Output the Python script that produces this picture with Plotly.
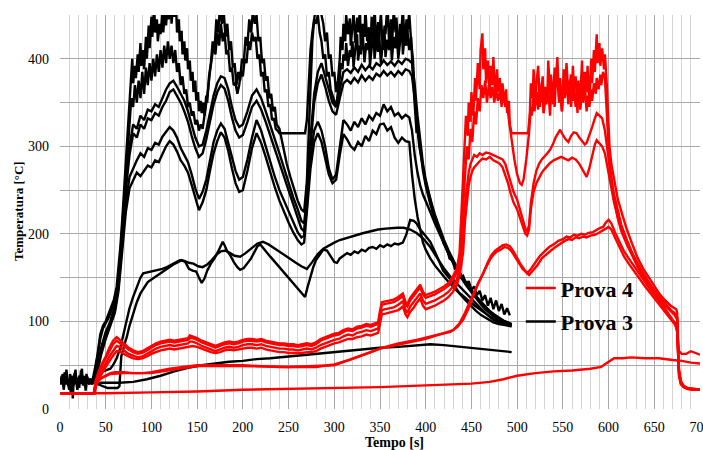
import plotly.graph_objects as go

# ---------------- Prova 3 (black): thermocouple readings, (time s, temperature °C)
p3_tc1 = [(0,30),(2,38),(4,25),(5,42),(7,28),(8,35),(10,22),(11,40),(13,30),(14,12),(15,33),(17,45),(18,28),(20,36),(21,24),(23,44),(24,30),(26,38),(27,26),(29,40),(30,32),(32,28),(33,35),(35,30),
    (38,45),(41,62),(44,85),(47,95),(50,100),(53,108),(56,115),(59,125),(62,140),(64,160),(66,185),(68,215),(70,250),(72,285),(74,320),(76,350),(78,385),(79,400),(80,372),(82,392),(83,378),(85,405),(86,385),(88,418),(89,392),(91,410),(92,388),(94,425),(95,400),(97,438),(98,412),(100,448),(101,425),(103,462),(104,430),(106,445),(107,420),(109,440),(110,428),(112,452),(113,430),(115,460),(116,438),(118,468),(119,445),(121,472),(122,440),(124,465),(125,448),(127,458),(128,430),(130,445),(131,420),(133,432),(134,405),(136,420),(137,398),(139,412),(140,388),(142,398),(143,375),(145,385),(146,362),(148,375),(149,352),(151,362),(152,340),(154,352),(155,338),(157,350),(158,335),(160,358),(161,350),(163,380),(165,395),(167,420),(169,410),(171,445),(173,430),(175,460),(177,440),(179,455),(181,425),(183,440),(185,410),(187,420),(189,390),(191,395),(193,370),(195,385),(197,375),(199,400),(201,395),(203,425),(205,415),(207,445),(209,430),(211,455),(213,440),(215,450),(217,420),(219,425),(221,395),(223,400),(225,375),(227,380),(229,355),(231,360),(233,340),(235,345),(237,325),(240,320),(244,300),(248,280),(252,265),(256,250),(260,238),(264,228),(267,225),(270,260),(272,320),(274,380),(276,420),(278,445),(280,460),(282,455),(284,465),(286,450),(288,440),(290,420),(292,430),(294,400),(296,405),(298,380),(300,385),(302,362),(304,375),
    (306,400),(307,425),(309,410),(310,440),(312,420),(313,450),(315,428),(317,446),(318,415),(320,438),(321,452),(323,418),(325,447),(326,430),(328,455),(329,412),(331,440),(333,425),(334,458),(336,420),(338,436),(339,405),(341,448),(343,430),(344,460),(346,415),(348,442),(349,425),(351,452),(353,410),(355,438),(356,428),(358,462),(360,418),(362,445),(363,412),(365,456),(367,430),(368,447),(370,408),(372,440),(373,425),(375,458),(377,415),(379,445),(380,430),(382,452),(384,420),
    (386,400),(388,360),(390,330),(393,300),(396,280),(399,265),(402,250),(405,240),(408,225),(411,218),(414,205),(417,200),(420,188),(423,185),(426,172),(429,170),(432,160),(435,160),(438,150),(441,152),(444,142),(447,146),(450,136),(453,140),(456,130),(459,135),(462,124),(465,130),(468,118),(471,127),(474,114),(477,124),(480,112),(483,120),(486,108),(489,115),(492,107)]

p3_tc2 = [(0,35),(1,28),(3,40),(4,22),(6,36),(7,45),(9,26),(10,33),(12,18),(13,38),(15,27),(16,41),(18,30),(19,22),(21,38),(22,29),(24,46),(25,27),(27,33),(28,21),(30,37),(31,29),(33,33),(35,28),
    (38,40),(41,58),(44,80),(47,92),(50,98),(53,104),(56,112),(59,122),(62,135),(64,150),(66,175),(68,205),(70,240),(72,275),(74,305),(76,330),(78,355),(80,345),(82,370),(84,350),(86,375),(88,355),(90,385),(92,360),(94,390),(96,370),(98,395),(100,375),(102,400),(104,380),(106,405),(108,385),(110,410),(112,390),(114,415),(116,395),(118,420),(120,400),(122,415),(124,395),(126,410),(128,385),(130,395),(132,370),(134,380),(136,360),(138,365),(140,345),(142,350),(144,335),(146,340),(148,325),(150,330),(152,318),(154,325),(156,320),(158,335),(160,345),(162,365),(164,385),(166,400),(168,415),(170,405),(172,430),(174,415),(176,440),(178,420),(180,430),(182,405),(184,410),(186,385),(188,390),(190,370),(192,372),(194,360),(196,370),(198,385),(200,380),(202,400),(204,395),(206,420),(208,410),(210,430),(212,420),(214,425),(216,400),(218,405),(220,380),(222,385),(224,362),(226,365),(228,345),(230,348),(232,330),(234,332),(236,320),(238,318),(240,315),(268,315),(270,330),(272,370),(274,410),(276,430),(278,445),(280,440),(282,450),(284,430),(286,420),(288,400),(290,405),(292,380),(294,385),(296,365),(298,358),
    (300,350),(302,345),(304,362),(306,378),(307,395),(309,388),(310,405),(312,398),(313,418),(315,392),(317,410),(318,402),(320,420),(321,390),(323,412),(325,428),(326,398),(328,415),(329,405),(331,432),(333,396),(335,418),(336,410),(338,425),(339,392),(341,415),(343,435),(344,400),(346,420),(348,408),(349,428),(351,395),(353,418),(355,430),(356,402),(358,422),(360,410),(361,436),(363,398),(365,425),(367,412),(368,432),(370,400),(372,420),(374,438),(375,405),(377,428),(379,415),(380,432),(382,410),(384,425),(386,380),(388,340),(390,315)]

p3_tc3 = [(0,30),(35,30),(40,42),(45,70),(50,88),(55,100),(60,118),(64,150),(68,200),(72,260),(76,300),(80,325),(84,320),(88,335),(92,330),(96,342),(100,340),(104,348),(108,345),(112,355),(116,365),(120,372),(124,375),(128,368),(132,360),(136,352),(140,340),(144,325),(148,310),(152,300),(156,302),(160,318),(164,340),(168,358),(172,372),(176,380),(180,378),(184,365),(188,345),(192,330),(196,322),(200,325),(205,340),(210,358),(215,365),(220,355),(225,340),(230,325),(235,308),(240,292),(245,275),(250,258),(255,242),(260,228),(264,215),(267,212),(270,240),(274,310),(278,360),(282,385),(286,395),(290,380),(294,365),(298,350),(302,345),(306,365),(310,385),(314,388),(318,384),(322,390),(326,385),(330,393),(334,387),(338,392),(342,388),(346,395),(350,392),(354,398),(358,393),(362,397),(366,392),(370,398),(374,394),(378,400),(382,398),(385,395),(388,370),(391,335),(394,305),(397,280),(400,262),(405,240),(410,222),(415,207),(420,193),(425,181),(430,170),(435,160),(440,151),(445,143),(450,136),(455,129),(460,123),(465,117),(470,112),(475,108),(480,104),(485,101),(490,99),(494,97)]

p3_tc4 = [(0,30),(35,30),(40,40),(45,68),(50,85),(55,98),(60,115),(64,145),(68,195),(72,250),(76,290),(80,315),(84,310),(88,325),(92,320),(96,332),(100,330),(104,338),(108,335),(112,345),(116,352),(120,362),(124,365),(128,358),(132,350),(136,340),(140,328),(144,312),(148,298),(152,288),(156,292),(160,308),(164,330),(168,348),(172,362),(176,370),(180,366),(184,352),(188,333),(192,318),(196,310),(200,313),(205,328),(210,345),(215,352),(220,342),(225,328),(230,312),(235,296),(240,280),(245,264),(250,248),(255,233),(260,218),(264,206),(267,203),(270,230),(274,300),(278,350),(282,372),(286,382),(290,368),(294,352),(298,340),(302,336),(306,355),(310,372),(314,376),(318,372),(322,378),(326,373),(330,381),(334,375),(338,380),(342,376),(346,383),(350,380),(354,386),(358,381),(362,385),(366,380),(370,386),(374,382),(378,388),(382,386),(385,380),(388,355),(391,322),(394,295),(397,272),(400,255),(405,234),(410,217),(415,202),(420,189),(425,177),(430,167),(435,157),(440,148),(445,140),(450,133),(455,126),(460,120),(465,114),(470,109),(475,105),(480,101),(485,99),(490,97),(494,95)]

p3_tc5 = [(0,30),(35,30),(40,40),(45,65),(50,82),(55,96),(60,112),(64,140),(68,185),(72,235),(76,265),(80,275),(84,284),(88,292),(92,288),(96,298),(100,296),(104,304),(108,302),(112,311),(116,316),(120,322),(124,318),(128,310),(132,298),(136,290),(140,282),(144,268),(148,252),(152,240),(156,248),(160,262),(164,285),(168,305),(172,318),(176,326),(180,320),(184,305),(188,288),(192,272),(196,262),(200,265),(205,285),(210,310),(215,330),(220,318),(225,300),(230,282),(235,265),(240,250),(245,238),(250,226),(255,212),(260,202),(264,196),(267,198),(270,240),(274,290),(278,318),(282,328),(286,318),(290,300),(294,275),(298,262),(302,268),(306,300),(310,330),(314,325),(318,318),(322,328),(326,322),(330,332),(334,325),(338,335),(342,330),(346,338),(350,335),(354,348),(358,340),(362,345),(366,335),(370,338),(374,332),(378,336),(382,333),(385,318),(388,290),(391,270),(394,255),(397,245),(400,238),(405,225),(410,212),(415,200),(420,188),(425,177),(430,167),(435,158),(440,150),(445,142),(450,135),(455,128),(460,122),(465,116),(470,111),(475,107),(480,103),(485,100),(490,98),(494,96)]

p3_tc6 = [(0,30),(35,30),(40,38),(45,62),(50,80),(55,94),(60,110),(64,135),(68,178),(72,225),(76,252),(80,262),(84,270),(88,266),(92,272),(96,278),(100,276),(104,284),(108,282),(112,292),(116,300),(120,306),(124,302),(128,294),(132,284),(136,278),(140,270),(144,256),(148,240),(152,227),(156,236),(160,250),(164,272),(168,292),(172,306),(176,316),(180,310),(184,295),(188,275),(192,258),(196,248),(200,250),(205,272),(210,298),(215,315),(220,304),(225,288),(230,270),(235,253),(240,238),(245,225),(250,213),(255,202),(260,193),(264,188),(267,190),(270,225),(274,275),(278,305),(282,315),(286,305),(290,285),(294,268),(298,258),(302,262),(306,290),(310,314),(314,308),(318,300),(322,296),(326,305),(330,300),(334,312),(338,306),(342,318),(346,314),(350,325),(354,326),(358,318),(362,322),(366,310),(370,304),(374,310),(378,306),(382,305),(385,268),(388,240),(391,220),(394,203),(397,190),(400,182),(405,172),(410,164),(415,157),(420,151),(425,145),(430,139),(435,134),(440,130),(445,125),(450,121),(455,117),(460,113),(465,109),(470,105),(475,102),(480,99),(485,97),(490,95),(494,94)]

p3_tc7 = [(0,30),(35,30),(40,36),(45,42),(50,44),(55,46),(58,50),(62,58),(66,70),(70,88),(73,102),(76,115),(80,128),(84,140),(88,150),(91,155),(95,156),(100,157),(106,158),(112,160),(117,162),(124,166),(131,170),(136,169),(141,167),(146,166),(151,163),(156,162),(161,165),(166,170),(171,176),(176,180),(181,181),(186,178),(191,175),(197,174),(203,178),(210,184),(216,189),(222,191),(228,188),(234,184),(240,180),(246,176),(252,171),(258,167),(264,163),(270,160),(276,168),(282,177),(288,183),(294,187),(300,190),(306,193),(312,195),(318,197),(325,199),(332,201),(340,203),(348,205),(356,206),(364,207),(369,207),(376,207),(383,205),(390,201),(397,195),(405,185),(412,173),(419,162),(427,151),(435,142),(443,133),(451,124),(459,116),(466,109),(474,102),(482,99),(488,97),(492,96)]

p3_tc8 = [(0,30),(35,30),(40,29),(45,27),(48,25),(52,24),(58,24),(63,24),(65,26),(66,40),(67,60),(70,72),(73,82),(76,95),(80,110),(84,122),(88,132),(92,138),(96,145),(100,148),(104,151),(108,153),(112,157),(116,160),(120,163),(124,165),(128,167),(133,170),(137,168),(141,160),(145,158),(149,157),(152,150),(155,144),(158,149),(161,158),(165,166),(169,172),(173,180),(176,186),(178,191),(180,187),(183,180),(186,176),(190,168),(194,162),(197,159),(201,161),(205,167),(209,172),(213,180),(216,186),(219,188),(222,184),(226,178),(230,174),(235,168),(240,162),(245,156),(250,150),(255,144),(260,138),(264,133),(268,128),(271,140),(274,152),(277,162),(280,170),(284,176),(288,182),(292,181),(296,175),(300,168),(303,167),(306,172),(310,175),(314,178),(318,176),(322,180),(326,178),(330,182),(334,180),(338,184),(342,185),(346,183),(350,187),(354,185),(358,188),(362,186),(366,189),(370,188),(375,190),(379,200),(383,216),(387,215),(390,212),(394,205),(398,200),(402,195),(405,191),(410,180),(415,168),(419,158),(423,153),(427,148),(432,140),(437,132),(443,125),(449,118),(455,112),(461,107),(467,103),(474,99),(480,97),(486,96),(492,95)]

p3_tc9 = [(0,30),(35,30),(50,30),(65,30),(80,31),(95,34),(110,38),(125,43),(140,47),(155,50),(170,52),(185,54),(200,55),(215,57),(230,58),(250,60),(270,62),(290,64),(310,66),(330,68),(350,70),(370,71),(390,73),(405,74),(420,73),(440,71),(460,69),(480,67),(494,65)]

# ---------------- Prova 4 (red)
p4_tc1 = [(0,18),(37,18),(39,32),(42,42),(46,52),(50,60),(54,70),(58,78),(62,82),(65,79),(70,74),(75,70),(80,67),(85,65),(90,66),(95,69),(100,72),(105,75),(110,77),(115,78),(120,79),(125,78),(130,79),(135,80),(140,81),(142,84),(145,83),(150,81),(155,78),(160,76),(165,74),(170,72),(175,74),(180,76),(185,77),(190,76),(195,77),(200,79),(205,80),(210,80),(215,79),(220,80),(225,78),(230,77),(235,76),(240,75),(245,75),(250,74),(255,74),(260,73),(265,74),(270,75),(275,74),(280,76),(285,80),(290,82),(295,84),(300,86),(305,87),(310,90),(315,92),(320,91),(325,94),(330,95),(335,97),(340,96),(345,98),(348,99),(350,112),(352,122),(356,123),(360,124),(365,125),(370,128),(375,132),(378,122),(380,120),(383,127),(387,132),(390,137),(394,142),(397,134),(400,130),(405,132),(410,134),(415,137),(420,140),(425,144),(430,152),(434,160),(437,178),(439,222),(441,262),
    (443,300),(444,335),(446,312),(447,350),(449,328),(450,362),(452,335),(454,378),(455,352),(457,395),(459,365),(460,410),(462,429),(463,388),(465,412),(466,372),(468,398),(470,360),(471,392),(473,370),(474,402),(476,355),(478,388),(479,362),(481,378),(483,345),(484,372),(486,350),(488,365),(489,338),(491,352),(492,325),(494,315),
    (512,315),(514,340),(515,372),(517,355),(518,388),(520,350),(521,370),(523,392),(525,345),(526,362),(528,380),(529,338),(531,368),(533,355),(534,398),(536,360),(537,382),(539,348),(541,390),(542,368),(544,402),(546,350),(547,378),(549,340),(551,388),(552,362),(554,395),(556,358),(557,375),(559,345),(561,392),(562,368),(564,380),(566,338),(567,372),(569,355),(571,398),(572,352),(574,385),(576,362),(577,392),(579,348),(581,400),(582,372),(584,410),(585,385),(587,428),(588,395),(590,418),(591,392),(593,412),(595,388),(596,405),(598,372),(599,350),
    (601,300),(603,280),(606,262),(610,240),(615,222),(620,205),(626,188),(632,172),(638,160),(644,150),(650,140),(656,131),(662,124),(668,118),(674,114),(675,110),(676,80),(677,66),(680,63),(685,63),(690,66),(695,64),(700,62)]

p4_tc2 = [(0,18),(37,18),(39,30),(42,40),(46,50),(50,58),(54,67),(58,74),(62,78),(65,76),(70,72),(75,68),(80,65),(85,63),(90,64),(95,67),(100,70),(105,73),(110,75),(115,76),(120,77),(125,76),(130,77),(135,78),(140,79),(142,81),(145,81),(150,79),(155,76),(160,74),(165,72),(170,70),(175,72),(180,74),(185,75),(190,74),(195,75),(200,77),(205,78),(210,78),(215,77),(220,78),(225,76),(230,75),(235,74),(240,73),(245,73),(250,72),(255,72),(260,71),(265,72),(270,73),(275,72),(280,74),(285,78),(290,80),(295,82),(300,84),(305,85),(310,88),(315,90),(320,89),(325,92),(330,93),(335,95),(340,94),(345,96),(348,97),(350,109),(352,119),(356,120),(360,121),(365,122),(370,125),(375,129),(378,119),(380,117),(383,124),(387,129),(390,134),(394,139),(397,131),(400,127),(405,129),(410,131),(415,134),(420,137),(425,141),(430,148),(434,156),(437,170),(439,200),(441,230),
    (443,270),(445,300),(447,285),(449,320),(451,305),(453,340),(455,325),(457,355),(459,340),(461,370),(463,355),(465,375),(467,350),(469,370),(471,355),(473,368),(475,350),(477,365),(479,352),(481,362),(483,348),(485,358),(487,345),(489,350),(491,330),(494,305),(497,285),(500,268),(503,258),(505,256),(507,262),(510,285),
    (513,315),(515,345),(516,335),(518,358),(519,340),(521,362),(523,342),(524,368),(526,350),(527,372),(529,338),(531,360),(532,348),(534,366),(536,335),(537,358),(539,372),(541,345),(542,368),(544,378),(546,350),(547,362),(549,340),(551,370),(552,355),(554,376),(556,348),(557,368),(559,382),(561,352),(562,370),(564,345),(566,365),(567,375),(569,342),(571,360),(572,350),(574,368),(576,340),(577,358),(579,345),(581,365),(582,352),(584,372),(586,360),(587,378),(589,365),(591,382),(592,370),(594,385),(596,378),(598,345),
    (600,300),(603,265),(606,240),(610,218),(614,203),(620,188),(626,174),(632,162),(638,151),(644,142),(650,133),(656,125),(662,118),(668,112),(672,109),(675,105),(676,70),(677,45),(679,32),(682,27),(686,24),(692,23),(700,22)]

p4_tc3 = [(0,18),(37,18),(39,28),(42,36),(46,45),(50,52),(54,60),(58,66),(62,72),(65,71),(70,67),(75,63),(80,61),(85,59),(90,60),(95,63),(100,66),(105,69),(110,71),(115,72),(120,73),(125,72),(130,73),(135,74),(140,75),(142,77),(145,77),(150,75),(155,72),(160,70),(165,68),(170,66),(175,68),(180,70),(185,71),(190,70),(195,71),(200,73),(205,74),(210,74),(215,73),(220,74),(225,72),(230,71),(235,70),(240,69),(245,69),(250,68),(255,68),(260,67),(265,68),(270,69),(275,68),(280,70),(285,73),(290,75),(295,77),(300,79),(305,80),(310,83),(315,85),(320,84),(325,87),(330,88),(335,90),(340,89),(345,91),(348,92),(350,103),(352,113),(356,114),(360,115),(365,116),(370,119),(375,123),(378,113),(380,110),(383,117),(387,122),(390,127),(394,132),(397,124),(400,120),(405,122),(410,124),(415,127),(420,130),(425,134),(430,140),(434,148),(437,160),(439,180),(441,200),
    (443,235),(445,255),(447,270),(449,280),(451,285),(453,290),(456,288),(459,292),(462,290),(466,293),(470,292),(474,290),(478,288),(481,287),(484,285),(487,280),(490,270),(493,258),(496,248),(500,239),(503,228),(506,218),(509,206),(511,202),(513,210),(515,235),(518,258),(521,272),(524,280),(527,285),(530,288),(533,292),(536,296),(539,302),(542,310),(545,316),(547,319),(550,313),(553,308),(556,305),(559,312),(562,316),(565,315),(568,310),(571,306),(574,302),(576,304),(579,312),(582,322),(585,332),(587,338),(590,335),(593,332),(596,318),(598,300),
    (600,285),(603,262),(606,245),(610,226),(614,210),(620,193),(626,178),(632,166),(638,155),(644,145),(650,136),(656,128),(662,120),(668,113),(672,110),(675,104),(676,68),(677,44),(679,31),(682,26),(686,24),(692,22),(700,22)]

p4_tc4 = [(0,18),(37,18),(39,26),(42,33),(46,41),(50,48),(54,55),(58,61),(62,66),(65,66),(70,63),(75,60),(80,58),(85,57),(90,58),(95,60),(100,63),(105,65),(110,67),(115,68),(120,69),(125,68),(130,69),(135,70),(140,71),(142,72),(145,72),(150,71),(155,69),(160,67),(165,65),(170,64),(175,65),(180,67),(185,68),(190,67),(195,68),(200,69),(205,70),(210,70),(215,69),(220,70),(225,68),(230,67),(235,66),(240,65),(245,65),(250,64),(255,64),(260,64),(265,64),(270,65),(275,65),(280,66),(285,69),(290,71),(295,73),(300,75),(305,76),(310,78),(315,80),(320,80),(325,82),(330,83),(335,85),(340,84),(345,86),(348,87),(350,98),(352,108),(356,109),(360,110),(365,111),(370,113),(375,117),(378,108),(380,105),(383,111),(387,116),(390,121),(394,126),(397,118),(400,114),(405,116),(410,118),(415,121),(420,124),(425,128),(430,134),(434,142),(437,152),(439,165),(441,180),
    (443,215),(445,240),(447,255),(449,265),(451,272),(453,276),(456,280),(459,283),(462,286),(466,285),(470,288),(474,284),(478,282),(481,280),(484,276),(487,268),(490,258),(493,246),(496,236),(500,228),(503,218),(506,208),(509,200),(511,198),(513,205),(515,228),(518,248),(521,258),(524,264),(527,270),(530,274),(533,278),(536,281),(540,284),(544,286),(548,288),(552,286),(556,284),(560,287),(564,285),(568,280),(572,272),(576,265),(579,275),(582,290),(585,302),(587,307),(590,303),(593,300),(596,292),(598,280),
    (600,268),(603,250),(606,236),(610,220),(614,206),(620,190),(626,176),(632,164),(638,153),(644,143),(650,134),(656,126),(662,118),(668,112),(672,108),(675,102),(676,66),(677,42),(679,30),(682,25),(686,23),(692,22),(700,22)]

p4_tc5 = [(0,18),(36,18),(38,18),(39,28),(42,33),(46,36),(50,38),(55,41),(60,42),(65,42),(70,42),(80,41),(90,41),(100,42),(110,44),(120,46),(135,48),(150,50),(165,50),(180,50),(200,50),(220,49),(240,48),(260,48),(280,48),(300,51),(317,56),(335,63),(353,70),(370,75),(390,79),(410,84),(427,88),(435,94),(441,102),(447,115),(452,128),(457,143),(463,155),(468,168),(472,176),(476,181),(480,184),(484,187),(488,188),(492,186),(496,180),(500,172),(504,165),(508,159),(511,155),(515,160),(520,167),(525,175),(530,180),(535,185),(540,188),(545,192),(550,194),(554,197),(558,196),(562,199),(566,198),(570,200),(574,199),(578,201),(583,202),(587,205),(591,207),(594,208),(597,213),(600,216),(603,212),(607,202),(612,190),(617,180),(622,172),(628,163),(634,153),(640,145),(646,136),(652,128),(658,120),(664,111),(670,102),(673,98),(675,90),(676,60),(677,40),(679,30),(682,26),(686,24),(692,23),(700,22)]

p4_tc6 = [(0,18),(38,18),(40,30),(45,35),(55,40),(70,41),(100,41),(150,49),(200,49),(250,48),(300,50),(350,69),(400,80),(430,90),(437,98),(443,110),(448,122),(454,136),(459,148),(465,160),(470,170),(474,176),(478,180),(482,182),(486,185),(490,184),(494,180),(498,173),(502,166),(506,160),(510,156),(513,153),(517,158),(522,164),(527,172),(532,177),(537,181),(542,185),(547,189),(552,192),(556,194),(560,193),(564,196),(568,195),(572,197),(576,196),(580,198),(585,199),(589,201),(593,204),(597,206),(600,208),(603,205),(607,196),(612,184),(617,174),(622,166),(628,157),(634,148),(640,140),(646,132),(652,124),(658,116),(664,108),(670,100),(673,96),(675,88),(676,58),(677,38),(679,28),(682,25),(686,23),(692,22),(700,22)]

p4_tc7 = [(0,18),(50,18),(100,19),(150,20),(200,22),(250,23),(300,24),(350,25),(400,27),(430,28),(450,29),(470,31),(485,34),(500,38),(520,41),(540,43),(560,44),(580,46),(592,48),(596,51),(600,54),(606,58),(615,58),(625,59),(640,58),(655,58),(670,56),(680,55),(690,53),(700,52)]

prova3 = [p3_tc1, p3_tc2, p3_tc3, p3_tc4, p3_tc5, p3_tc6, p3_tc7, p3_tc8, p3_tc9]
prova4 = [p4_tc1, p4_tc2, p4_tc3, p4_tc4, p4_tc5, p4_tc6, p4_tc7]

x_ticks = list(range(0, 701, 50))
y_ticks = [0, 100, 200, 300, 400]

SERIF = "Liberation Serif, Times New Roman, serif"
fig = go.Figure()


def add_group(curves, color, name, rank):
    for i, c in enumerate(curves):
        fig.add_trace(go.Scatter(
            x=[p[0] for p in c], y=[p[1] for p in c], mode="lines",
            line=dict(color=color, width=2.4),
            name=name, legendgroup=name, showlegend=(i == 0), legendrank=rank,
            hoverinfo="skip"))


add_group(prova3, "#000000", "Prova 3", 2)
add_group(prova4, "#FF0000", "Prova 4", 1)

fig.update_layout(
    width=703, height=450,
    margin=dict(l=60, r=3, t=15, b=41),
    paper_bgcolor="white", plot_bgcolor="white",
    font=dict(family=SERIF, color="#000000", size=13),
    showlegend=True,
    legend=dict(x=0.72, y=0.36, xanchor="left", yanchor="top",
                bgcolor="rgba(0,0,0,0)", borderwidth=0,
                font=dict(family=SERIF, size=22, weight="bold"),
                tracegroupgap=2, itemwidth=30),
    xaxis=dict(range=[0, 700], tickvals=x_ticks, showgrid=True,
               gridcolor="#a8a8a8", gridwidth=1,
               minor=dict(dtick=10, showgrid=True, gridcolor="#d4d4d4", gridwidth=1),
               zeroline=False, showline=False, ticks="", ticklabeloverflow="allow",
               automargin=False,
               ticklabelstandoff=8, tickfont=dict(family=SERIF, size=14)),
    yaxis=dict(range=[0, 450], tickvals=y_ticks, showgrid=True,
               gridcolor="#a8a8a8", gridwidth=1,
               minor=dict(dtick=50, showgrid=True, gridcolor="#a8a8a8", gridwidth=1),
               zeroline=False, showline=False, ticks="", automargin=False,
               ticklabelstandoff=10, tickfont=dict(family=SERIF, size=14)),
    annotations=[
        dict(text="<b>Tempo [s]</b>", xref="paper", yref="paper",
             x=(394 - 60) / 640, y=-(443 - 409) / 394, xanchor="center", yanchor="middle",
             showarrow=False, font=dict(family=SERIF, size=14)),
        dict(text="<b>Temperatura [°C]</b>", xref="paper", yref="paper",
             x=-(60 - 18) / 640, y=(409 - 211) / 394, xanchor="center", yanchor="middle",
             textangle=-90, showarrow=False, font=dict(family=SERIF, size=13)),
    ],
)

fig.write_html("out.html")
